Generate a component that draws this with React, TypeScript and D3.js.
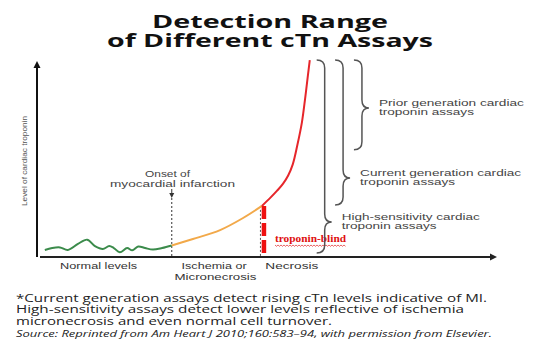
import React from "react";
import * as d3 from "d3";

// ---- data (domain units: x = time 0..100, y = troponin level 0..100) ----
const normalX = [1.7, 3.3, 5.0, 6.7, 8.9, 10.9, 12.6, 14.3, 15.7, 16.7, 18.0, 19.6, 20.7, 22.0, 23.5, 25.2, 27.2, 29.3];
const normalY = [3.6, 4.6, 4.9, 3.6, 6.7, 8.9, 5.6, 4.1, 5.6, 4.6, 2.4, 4.6, 3.4, 5.4, 4.6, 3.8, 4.6, 5.9];
const ischemiaX = [29.3, 33.9, 39.8, 44.8, 48.9];
const ischemiaY = [5.9, 9.2, 13.8, 20.0, 26.2];
const necrosisX = [48.9, 50.7, 52.2, 53.5, 54.6, 55.6, 56.6, 57.6, 58.3, 58.9, 59.3];
const necrosisY = [26.2, 30.3, 34.0, 37.6, 41.8, 47.5, 57.4, 69.2, 81.5, 93.3, 101];

const phaseLabels = ["Normal levels", "Ischemia or", "Micronecrosis", "Necrosis"];
const phaseCenters = [13.4, 38.5, 38.8, 55.4];
const phaseRows = [0, 0, 1, 0];
const phaseWidths = [77, 65, 82, 53];

const assayLine1 = ["High-sensitivity cardiac", "Current generation cardiac", "Prior generation cardiac"];
const assayLine2 = ["troponin assays", "troponin assays", "troponin assays"];
const assayTop = [101, 101, 101];
const assayBottom = [2, 26.7, 55];
const assayMid = [18, 40.5, 76.4];
const assayX = [60.8, 64.8, 68.9];
const assayW1 = [138, 161, 145];
const assayW2 = [95, 95, 95];

const onsetX = 29.3;
const necrosisStart = 48.9;

const footLines = [
  "*Current generation assays detect rising cTn levels indicative of MI.",
  "High-sensitivity assays detect lower levels reflective of ischemia",
  "micronecrosis and even normal cell turnover.",
];
const footWidths = [471, 448, 316];
const sourceLabel = "Source:";
const sourceText = "Reprinted from Am Heart J 2010;160:583\u201394, with permission from Elsevier.";

export default function App() {
  const W = 538, H = 361;
  const x = d3.scaleLinear().domain([0, 100]).range([37, 497]);
  const y = d3.scaleLinear().domain([0, 100]).range([257, 62]);

  const line = d3
    .line<[number, number]>()
    .x((d) => x(d[0]))
    .y((d) => y(d[1]))
    .curve(d3.curveCatmullRom.alpha(0.5));

  const zip = (a: number[], b: number[]) => a.map((v, i) => [v, b[i]] as [number, number]);

  const brace = (x0: number, y1: number, y2: number, ym: number) => {
    const xl = x0 + 8;
    const xt = x0 + 15;
    const r = 8;
    const p = d3.path();
    p.moveTo(x0, y1);
    p.quadraticCurveTo(xl, y1, xl, y1 + r);
    p.lineTo(xl, ym - r);
    p.quadraticCurveTo(xl, ym, xt, ym);
    p.quadraticCurveTo(xl, ym, xl, ym + r);
    p.lineTo(xl, y2 - r);
    p.quadraticCurveTo(xl, y2, x0, y2);
    return p.toString();
  };

  const xAxisY = y(0);
  const yAxisX = x(0);
  const redX = x(necrosisStart) + 2;

  // squiggle under "troponin-blind"
  const sqStart = 275, sqEnd = 346, sqY = 245;
  const sqPts: [number, number][] = [];
  for (let px = sqStart, k = 0; px <= sqEnd; px += 1.5, k++) sqPts.push([px, sqY + (k % 2 === 0 ? 0 : 1.3)]);

  const labelFont = "'Liberation Sans', Arial, sans-serif";

  return (
    <svg width={W} height={H} style={{ position: "absolute", left: 0, top: 0, background: "#fff" }}>
      <rect width={W} height={H} fill="#fff" />
      {/* title */}
      <g fontFamily="'Open Sans', sans-serif" fontWeight={700} fill="#111" fontSize={17}>
        <text x={152} y={28} textLength={236} lengthAdjust="spacingAndGlyphs">Detection Range</text>
        <text x={107} y={46.5} textLength={326} lengthAdjust="spacingAndGlyphs">of Different cTn Assays</text>
      </g>

      {/* axes */}
      <line x1={yAxisX} y1={xAxisY} x2={yAxisX} y2={y(100) + 4} stroke="#111" strokeWidth={2} />
      <path d={`M${yAxisX - 3.5},${y(100) + 6} L${yAxisX},${y(100) - 1} L${yAxisX + 3.5},${y(100) + 6} Z`} fill="#111" />
      <line x1={yAxisX + 3} y1={xAxisY} x2={x(100) - 4} y2={xAxisY} stroke="#222" strokeWidth={2} />
      <path d={`M${x(100) - 7},${xAxisY - 3.5} L${x(100)},${xAxisY} L${x(100) - 7},${xAxisY + 3.5} Z`} fill="#222" />

      <text
        transform={`translate(26.5, ${161}) rotate(-90)`}
        textAnchor="middle"
        fontFamily={labelFont}
        fontSize={8}
        fill="#555"
        textLength={90}
        lengthAdjust="spacingAndGlyphs"
      >
        Level of cardiac troponin
      </text>

      {/* onset dotted line */}
      <line x1={x(onsetX)} y1={198} x2={x(onsetX)} y2={xAxisY} stroke="#333" strokeWidth={1} strokeDasharray="2,2" />
      <line x1={x(onsetX)} y1={189} x2={x(onsetX)} y2={194} stroke="#333" strokeWidth={1} />
      <path d={`M${x(onsetX) - 2.5},${193} L${x(onsetX)},${198} L${x(onsetX) + 2.5},${193} Z`} fill="#333" />
      <g fontFamily={labelFont} fontSize={9.5} fill="#444" textAnchor="middle">
        <text x={167.5} y={176.7} textLength={45} lengthAdjust="spacingAndGlyphs">Onset of</text>
        <text x={172.5} y={186.7} textLength={125} lengthAdjust="spacingAndGlyphs">myocardial infarction</text>
      </g>

      {/* black dotted line at necrosis start */}
      <line x1={x(necrosisStart) - 1.5} y1={y(26.2)} x2={x(necrosisStart) - 1.5} y2={xAxisY} stroke="#555" strokeWidth={1} strokeDasharray="2,2" />

      {/* curves */}
      <path d={line(zip(normalX, normalY)) || ""} fill="none" stroke="#3b8b4b" strokeWidth={2} />
      <path d={line(zip(ischemiaX, ischemiaY)) || ""} fill="none" stroke="#f2a94a" strokeWidth={2} />
      <path d={line(zip(necrosisX, necrosisY)) || ""} fill="none" stroke="#e6262b" strokeWidth={2} />

      {/* red dashed troponin-blind */}
      <line x1={redX} y1={y(26.2)} x2={redX} y2={xAxisY} stroke="#ee1111" strokeWidth={4.5} strokeDasharray="13,4" />
      <text x={275} y={241.5} fontFamily="'Liberation Serif', 'Times New Roman', serif" fontWeight={700} fontSize={11} fill="#e01010" textLength={71} lengthAdjust="spacingAndGlyphs">
        troponin-blind
      </text>
      <polyline points={sqPts.map((p) => p.join(",")).join(" ")} fill="none" stroke="#e02020" strokeWidth={0.7} />

      {/* braces */}
      {assayX.map((bx, i) => {
        const x0 = x(bx);
        const ym = y(assayMid[i]);
        return (
          <g key={i}>
            <path d={brace(x0, y(assayTop[i]), y(assayBottom[i]), ym)} fill="none" stroke="#555" strokeWidth={1.5} />
            <g fontFamily={labelFont} fontSize={8.6} fill="#444">
              <text x={x0 + 25} y={ym - 2.3} textLength={assayW1[i]} lengthAdjust="spacingAndGlyphs">{assayLine1[i]}</text>
              <text x={x0 + 25} y={ym + 7.3} textLength={assayW2[i]} lengthAdjust="spacingAndGlyphs">{assayLine2[i]}</text>
            </g>
          </g>
        );
      })}

      {/* phase labels */}
      <g fontFamily={labelFont} fontSize={9} fill="#333" textAnchor="middle">
        {phaseLabels.map((t, i) => (
          <text key={t} x={x(phaseCenters[i])} y={268.6 + phaseRows[i] * 11} textLength={phaseWidths[i]} lengthAdjust="spacingAndGlyphs">
            {t}
          </text>
        ))}
      </g>

      {/* footnote */}
      <g fontFamily="'Open Sans', sans-serif" fontSize={10.5} fill="#222">
        {footLines.map((t, i) => (
          <text key={i} x={16} y={301.5 + i * 11.8} textLength={footWidths[i]} lengthAdjust="spacingAndGlyphs">
            {t}
          </text>
        ))}
      </g>
      <text x={16} y={337} fontFamily="'Open Sans', sans-serif" fontStyle="italic" fontSize={9.5} fill="#222" textLength={476} lengthAdjust="spacingAndGlyphs">
        {sourceLabel + " " + sourceText}
      </text>
    </svg>
  );
}
